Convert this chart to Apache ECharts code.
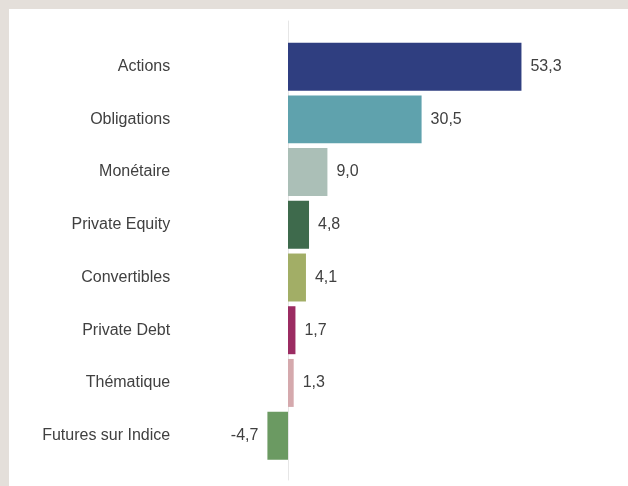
<!DOCTYPE html>
<html>
<head>
<meta charset="utf-8">
<script src="https://cdn.jsdelivr.net/npm/echarts@6/dist/echarts.min.js"></script>
<style>
html,body{margin:0;padding:0;background:#e4dfda;width:628px;height:486px;overflow:hidden;}
#chart{position:absolute;left:9px;top:9px;width:619px;height:477px;background:#ffffff;}
</style>
</head>
<body>
<div id="chart"></div>
<script>
const categories = ["Actions","Obligations","Monétaire","Private Equity","Convertibles","Private Debt","Thématique","Futures sur Indice"];
const values = [53.3, 30.5, 9.0, 4.8, 4.1, 1.7, 1.3, -4.7];
const colors = ["#2f3e80","#5fa2ad","#abbfb7","#3e6a4c","#a2ae66","#9b2c62","#d5a9ad","#6b9a62"];

const chart = echarts.init(document.getElementById('chart'));
const fmt = v => v.toFixed(1).replace('.', ',');
chart.setOption({
  animation: false,
  textStyle: {fontFamily: 'Liberation Sans, Arial, sans-serif'},
  grid: [
    {left: 235.2, right: 77.2, top: 31.3, bottom: 24, containLabel: false},
    {left: 235.2, right: 77.2, top: 12, bottom: 6, containLabel: false}
  ],
  xAxis: [
    {gridIndex: 0, type: 'value', min: -10, max: 60, show: false},
    {gridIndex: 1, type: 'value', min: -10, max: 60, show: false}
  ],
  yAxis: [
    {gridIndex: 0, type: 'category', data: categories, inverse: true,
     axisLine: {show: false}, axisTick: {show: false}, splitLine: {show: false},
     axisLabel: {margin: 74, fontSize: 16, color: '#404040', fontFamily: 'Liberation Sans, Arial, sans-serif'}},
    {gridIndex: 1, type: 'category', data: categories, inverse: true,
     axisLine: {show: true, onZero: true, lineStyle: {color: '#e6e6e6', width: 1}},
     axisTick: {show: false}, axisLabel: {show: false}, splitLine: {show: false}}
  ],
  series: [{
    type: 'bar',
    xAxisIndex: 0, yAxisIndex: 0,
    barCategoryGap: '9%',
    data: values.map((v, i) => ({
      value: v,
      itemStyle: {color: colors[i]},
      label: {position: v < 0 ? 'left' : 'right'}
    })),
    label: {show: true, distance: 9, fontSize: 16, color: '#404040',
      fontFamily: 'Liberation Sans, Arial, sans-serif',
      formatter: p => fmt(p.value)}
  }]
});
</script>
</body>
</html>
